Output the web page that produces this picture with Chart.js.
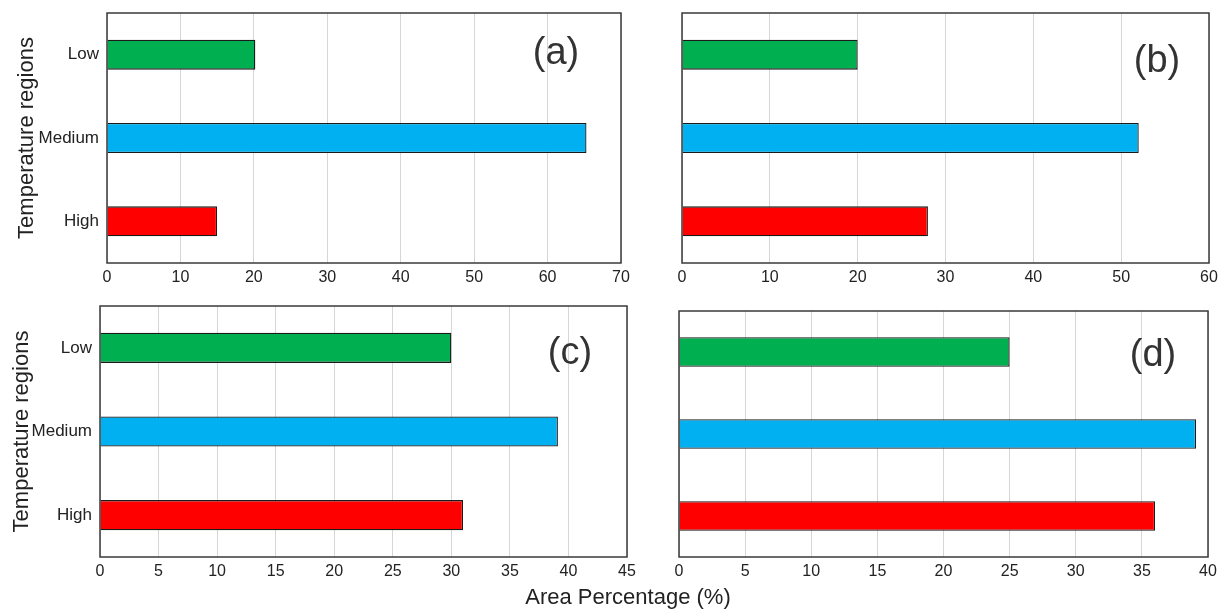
<!DOCTYPE html>
<html>
<head>
<meta charset="utf-8">
<script src="https://cdn.jsdelivr.net/npm/chart.js@4.4.1/dist/chart.umd.min.js"></script>
<style>
body{margin:0;background:#fff;}
#wrap{position:relative;width:1220px;height:613px;overflow:hidden;background:#fff;}
canvas{position:absolute;}
#xtitle{position:absolute;top:586px;left:628px;transform:translateX(-50%);font:22px "Liberation Sans",Arial,sans-serif;line-height:22px;color:#222;white-space:nowrap;}
</style>
</head>
<body>
<div id="wrap">
<canvas id="cA" width="640" height="300" style="left:0;top:0"></canvas>
<canvas id="cB" width="580" height="300" style="left:640px;top:0"></canvas>
<canvas id="cC" width="640" height="323" style="left:0;top:290px"></canvas>
<canvas id="cD" width="580" height="323" style="left:640px;top:290px"></canvas>
<div id="xtitle">Area Percentage (%)</div>
</div>
<script>
// data
var categories = ["Low", "Medium", "High"];
var barColors = ["#00b050", "#00b0f0", "#ff0000"];

var valuesA = [20.2, 65.3, 15.0];
var valuesB = [20.0, 52.0, 28.0];
var valuesC = [30.0, 39.1, 31.0];
var valuesD = [25.0, 39.1, 36.0];

var maxA = 70, stepA = 10;
var maxB = 60, stepB = 10;
var maxC = 45, stepC = 5;
var maxD = 40, stepD = 5;

var yTitle = "Temperature regions";
var FONT = '"Liberation Sans", Arial, Helvetica, sans-serif';

/*box around the plot area + the (a)..(d) tag*/
var framePlugin = {
	id: 'frame',
	afterDatasetsDraw: function(chart, args, o){
		var a = chart.chartArea;
		var ctx = chart.ctx;
		ctx.save();
		ctx.strokeStyle = "#3a3a3a";
		ctx.lineWidth = 1.5;
		ctx.strokeRect(a.left, a.top, a.right - a.left, a.bottom - a.top);
		ctx.font = "38px " + FONT;
		ctx.fillStyle = "#333";
		ctx.textAlign = "center";
		ctx.textBaseline = "middle";
		ctx.fillText(o.text, o.x, o.y);
		ctx.restore();
	}
};

function makePanel(id, values, max, step, p){
	var ctx = document.getElementById(id);
	return new Chart(ctx, {
		type: 'bar',
		data: {
			labels: categories,
			datasets: [{
				data: values,
				backgroundColor: barColors,
				borderColor: "#1a1a1a",
				borderWidth: 1.3,
				barPercentage: 0.36,
				categoryPercentage: 1
			}]
		},
		options: {
			indexAxis: 'y',
			responsive: false,
			animation: false,
			layout: { padding: { top: p.padTop, right: p.padRight, left: 0, bottom: 0 } },
			plugins: {
				legend: { display: false },
				tooltip: { enabled: false },
				frame: { text: p.tag, x: p.tagX, y: p.tagY }
			},
			scales: {
				x: {
					min: 0,
					max: max,
					ticks: { stepSize: step, padding: 5, color: "#222", font: { family: FONT, size: 16 } },
					grid: { color: "#d6d6d6", lineWidth: 1, drawTicks: false },
					border: { display: false },
					afterFit: function(s){ s.height = p.xHeight; s.paddingLeft = 0; s.paddingRight = 0; }
				},
				y: {
					ticks: { display: p.showY, padding: 8, color: "#222", font: { family: FONT, size: 17 } },
					grid: { display: false, drawTicks: false },
					border: { display: false },
					title: {
						display: p.showY,
						text: yTitle,
						color: "#222",
						font: { family: FONT, size: 22 },
						padding: { top: p.titlePad, bottom: 0 }
					},
					afterFit: function(s){ s.width = p.yWidth; s.paddingTop = 0; s.paddingBottom = 0; }
				}
			}
		},
		plugins: [framePlugin]
	});
}

makePanel("cA", valuesA, maxA, stepA, { padTop: 13, padRight: 19, yWidth: 107, xHeight: 37, showY: true, titlePad: 14, tag: "(a)", tagX: 556, tagY: 54 });
makePanel("cB", valuesB, maxB, stepB, { padTop: 13, padRight: 11, yWidth: 42, xHeight: 37, showY: false, titlePad: 0, tag: "(b)", tagX: 1157 - 640, tagY: 62 });
makePanel("cC", valuesC, maxC, stepC, { padTop: 16, padRight: 13, yWidth: 100, xHeight: 56, showY: true, titlePad: 9, tag: "(c)", tagX: 570, tagY: 64 });
makePanel("cD", valuesD, maxD, stepD, { padTop: 21, padRight: 12, yWidth: 39, xHeight: 56, showY: false, titlePad: 0, tag: "(d)", tagX: 1153 - 640, tagY: 66 });
</script>
</body>
</html>
